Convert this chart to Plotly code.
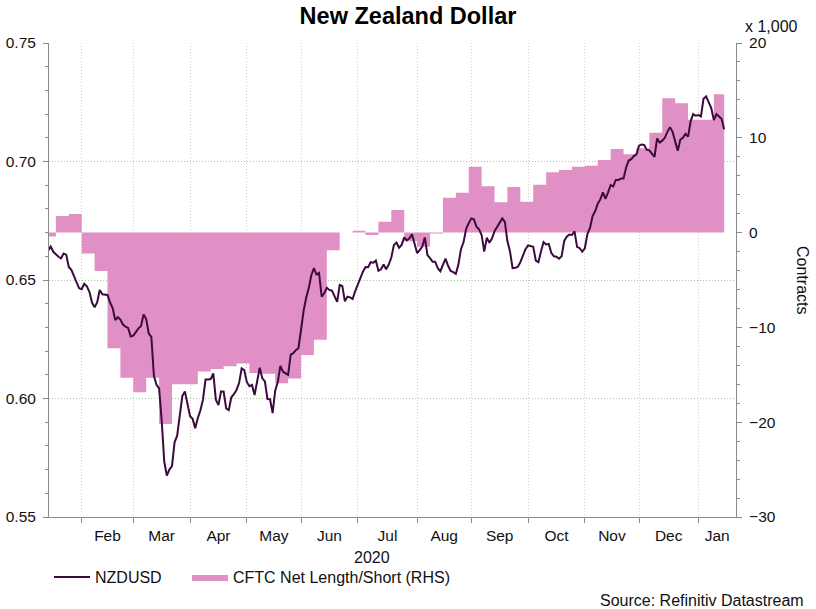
import numpy as np
import pandas as pd
import plotly.graph_objects as go

# NZDUSD, every weekday from 15 Jan 2020 to 15 Jan 2021
nzdusd = [
    0.6625, 0.6641, 0.6619, 0.6608, 0.6598, 0.6591, 0.6612, 0.6607, 0.6555, 0.6543,
    0.6515, 0.6490, 0.6465, 0.6461, 0.6484, 0.6473, 0.6450, 0.6405, 0.6385, 0.6405,
    0.6458, 0.6440, 0.6437, 0.6437, 0.6405, 0.6382, 0.6331, 0.6343, 0.6333, 0.6312,
    0.6303, 0.6298, 0.6262, 0.6265, 0.6280, 0.6296, 0.6306, 0.6355, 0.6335, 0.6274,
    0.6260, 0.6095, 0.6058, 0.6043, 0.5909, 0.5733, 0.5675, 0.5700, 0.5715, 0.5815,
    0.5843, 0.5930, 0.6010, 0.6030, 0.5980, 0.5925, 0.5914, 0.5875, 0.5918, 0.5950,
    0.5995, 0.6080, 0.6080, 0.6082, 0.6106, 0.5995, 0.5972, 0.6030, 0.6030, 0.5958,
    0.5951, 0.6005, 0.6018, 0.6036, 0.6065, 0.6127, 0.6120, 0.6070, 0.6052, 0.6057,
    0.6015, 0.6075, 0.6130, 0.6085, 0.6072, 0.5998, 0.5997, 0.5938, 0.6033, 0.6070,
    0.6138, 0.6113, 0.6106, 0.6100, 0.6185, 0.6191, 0.6204, 0.6212, 0.6289, 0.6370,
    0.6425, 0.6466, 0.6520, 0.6550, 0.6523, 0.6530, 0.6430, 0.6444, 0.6467, 0.6458,
    0.6455, 0.6433, 0.6408, 0.6479, 0.6475, 0.6410, 0.6430, 0.6427, 0.6420, 0.6453,
    0.6482, 0.6508, 0.6535, 0.6555, 0.6554, 0.6575, 0.6573, 0.6582, 0.6539, 0.6545,
    0.6565, 0.6545, 0.6565, 0.6595, 0.6648, 0.6658, 0.6636, 0.6648, 0.6680, 0.6667,
    0.6676, 0.6693, 0.6648, 0.6614, 0.6626, 0.6641, 0.6679, 0.6605, 0.6592, 0.6577,
    0.6577, 0.6550, 0.6537, 0.6565, 0.6590, 0.6560, 0.6538, 0.6533, 0.6526, 0.6565,
    0.6630, 0.6660, 0.6716, 0.6740, 0.6760, 0.6756, 0.6725, 0.6714, 0.6690, 0.6620,
    0.6678, 0.6657, 0.6675, 0.6706, 0.6725, 0.6745, 0.6760, 0.6745, 0.6663, 0.6620,
    0.6550, 0.6552, 0.6555, 0.6575, 0.6605, 0.6630, 0.6646, 0.6643, 0.6640, 0.6582,
    0.6575, 0.6620, 0.6660, 0.6650, 0.6652, 0.6615, 0.6600, 0.6598, 0.6590, 0.6600,
    0.6665, 0.6683, 0.6692, 0.6690, 0.6705, 0.6640, 0.6634, 0.6620, 0.6634, 0.6694,
    0.6720, 0.6770, 0.6790, 0.6822, 0.6840, 0.6870, 0.6842, 0.6870, 0.6900, 0.6895,
    0.6922, 0.6922, 0.6928, 0.6928, 0.6975, 0.7004, 0.7010, 0.7023, 0.7030, 0.7067,
    0.7072, 0.7070, 0.7049, 0.7047, 0.7035, 0.7020, 0.7097, 0.7080, 0.7088, 0.7100,
    0.7125, 0.7145, 0.7125, 0.7090, 0.7045, 0.7092, 0.7100, 0.7117, 0.7105, 0.7170,
    0.7200, 0.7193, 0.7196, 0.7190, 0.7265, 0.7275, 0.7252, 0.7225, 0.7175, 0.7200,
    0.7190, 0.7180, 0.7136,
]

# CFTC net length/short, thousands of contracts, one value per week (weeks from 13 Jan 2020)
cftc = [
    -0.4, 1.75, 1.95, -2.2, -4.05, -12.2, -15.3, -16.85, -15.3, -20.2,
    -16.0, -16.0, -14.65, -14.4, -14.1, -13.8, -14.8, -14.9, -15.9, -15.4,
    -12.9, -11.3, -1.85, 0.0, 0.2, -0.25, 1.15, 2.38, -0.9, -1.5,
    -0.1, 3.68, 4.2, 6.95, 4.9, 3.2, 4.8, 3.26, 5.05, 6.36,
    6.6, 6.95, 7.06, 7.66, 8.82, 8.26, 8.89, 10.54, 14.17, 13.64,
    11.9, 11.9, 14.6,
]

month_labels = ["Feb", "Mar", "Apr", "May", "Jun", "Jul", "Aug", "Sep", "Oct", "Nov", "Dec", "Jan"]
year_label = "2020"

dates = pd.bdate_range("2020-01-15", periods=len(nzdusd))
weeks = pd.date_range("2020-01-13", periods=len(cftc), freq="7D")
# step area runs until the last daily date
cftc_x = list(weeks) + [dates[-1]]
cftc_y = cftc + [cftc[-1]]

x_start = pd.Timestamp("2020-01-15 08:00")
x_end = pd.Timestamp("2021-01-21 14:00")

# ticks on the first business day of each month, labels centred between them
month_starts = pd.date_range("2020-02-01", "2021-01-31", freq="BMS")
bounds = list(month_starts) + [x_end]
label_pos = []
for s, e in zip(bounds[:-1], bounds[1:]):
    n = np.busday_count(s.date(), e.date()) + (e - e.normalize()) / pd.Timedelta(days=1)
    half = n / 2
    label_pos.append(s + pd.offsets.BDay(int(half)) + pd.Timedelta(days=half - int(half)))

PINK = "rgb(224,144,196)"
PURPLE = "#3b0a3f"
AXIS = "#8a8a8a"
HGRID = "#a9c79a"
VGRID = "#e2c6c6"
FONT = "Liberation Sans, Arial, sans-serif"

# plot area in pixels: x 49..736, y 43..517
def px(x):
    return (x - 49) / 687

def py(y):
    return (517 - y) / 474

fig = go.Figure()
fig.add_trace(go.Scatter(
    x=cftc_x, y=cftc_y, name="CFTC Net Length/Short (RHS)", mode="lines",
    line=dict(shape="hv", width=0, color=PINK), fill="tozeroy", fillcolor=PINK,
    yaxis="y", legend="legend2", hoverinfo="skip",
))
fig.add_trace(go.Scatter(
    x=dates, y=nzdusd, name="NZDUSD", mode="lines",
    line=dict(color=PURPLE, width=2), yaxis="y2", legend="legend",
))

legend_style = dict(orientation="h", xanchor="left", yanchor="middle", y=py(577),
                    font=dict(size=16), bgcolor="rgba(0,0,0,0)", itemwidth=36)

fig.update_layout(
    width=816, height=609,
    margin=dict(l=49, r=80, t=43, b=92),
    paper_bgcolor="white", plot_bgcolor="white",
    font=dict(family=FONT, size=16, color="#111111"),
    title=dict(text="<b>New Zealand Dollar</b>", x=0.5, xref="container", xanchor="center",
               y=1 - 16 / 609, yref="container", yanchor="middle",
               font=dict(size=23.5, color="black")),
    showlegend=True,
    legend=dict(x=px(49), **legend_style),
    legend2=dict(x=px(187), **legend_style),
    xaxis=dict(
        type="date", range=[x_start, x_end], automargin=False,
        rangebreaks=[dict(bounds=["sat", "mon"])],
        tickmode="array", tickvals=label_pos, ticktext=month_labels,
        ticks="", ticklabelstandoff=4, tickfont=dict(size=15.5, color="#111111"),
        showgrid=False, zeroline=False, showline=True, linecolor=AXIS, linewidth=1,
        minor=dict(tickmode="array", tickvals=list(month_starts), ticks="outside",
                   ticklen=5, tickcolor=AXIS, showgrid=True, gridcolor=VGRID,
                   griddash="1px,2px", gridwidth=1),
    ),
    yaxis=dict(
        range=[-30, 20], side="right", tickmode="linear", tick0=-30, dtick=10,
        automargin=False,
        ticks="outside", ticklen=5, tickcolor=AXIS, ticklabelstandoff=4,
        tickfont=dict(size=15.5, color="#111111"),
        showgrid=False, zeroline=False, showline=True, linecolor=AXIS, linewidth=1,
        minor=dict(tick0=-30, dtick=2, ticks="outside", ticklen=3, tickcolor=AXIS),
    ),
    yaxis2=dict(
        range=[0.55, 0.75], overlaying="y", side="left", tickmode="linear",
        tick0=0.55, dtick=0.05, tickformat=".2f", automargin=False,
        ticks="outside", ticklen=5, tickcolor=AXIS, ticklabelstandoff=4,
        tickfont=dict(size=15.5, color="#111111"),
        showgrid=True, gridcolor=HGRID, griddash="1px,2px", gridwidth=1,
        zeroline=False, showline=True, linecolor=AXIS, linewidth=1,
        minor=dict(tick0=0.55, dtick=0.01, ticks="outside", ticklen=3, tickcolor=AXIS),
    ),
    annotations=[
        dict(text=year_label, x=px(372), y=py(557), xref="paper", yref="paper",
             xanchor="center", yanchor="middle", showarrow=False, font=dict(size=16)),
        dict(text="x 1,000", x=px(743), y=py(26), xref="paper", yref="paper",
             xanchor="left", yanchor="middle", showarrow=False, font=dict(size=16)),
        dict(text="Contracts", x=px(803), y=0.5, xref="paper", yref="paper",
             xanchor="center", yanchor="middle", textangle=90, showarrow=False,
             font=dict(size=16)),
        dict(text="Source: Refinitiv Datastream", x=px(806), y=py(600), xref="paper",
             yref="paper", xanchor="right", yanchor="middle", showarrow=False,
             font=dict(size=16)),
    ],
)

# the page's default body margin would shift the figure by 8px
fig.write_html("out.html", config={"displayModeBar": False},
               post_script="document.body.style.margin='0px';")
